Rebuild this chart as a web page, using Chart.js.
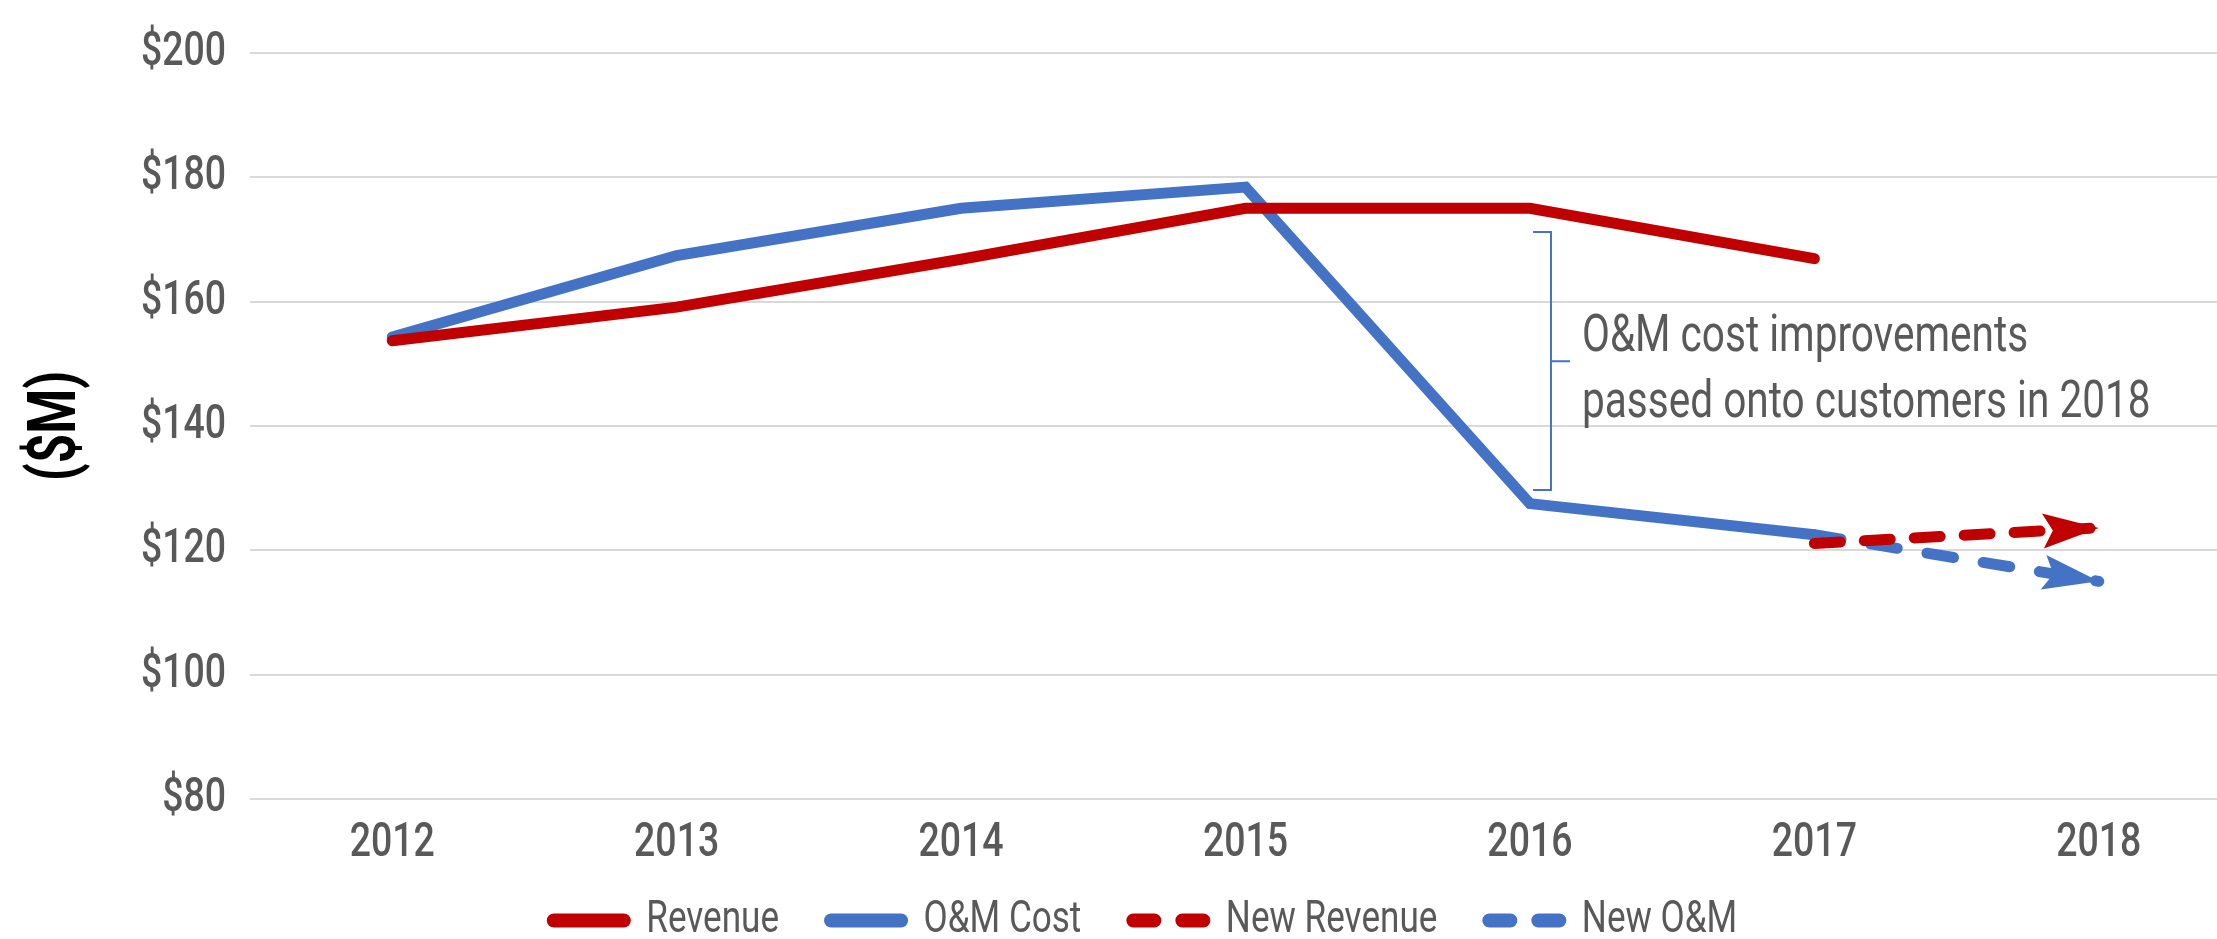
<!DOCTYPE html>
<html>
<head>
<meta charset="utf-8">
<title>Revenue vs O&amp;M Cost</title>
<script src="https://cdn.jsdelivr.net/npm/chart.js@4.4.1/dist/chart.umd.min.js"></script>
<style>
    html, body { margin: 0; padding: 0; background: #fff; overflow: hidden; }
    #wrap { width: 2241px; height: 948px; }
    canvas { display: block; }
</style>
</head>
<body>
<div id="wrap"><canvas id="om-chart" width="2241" height="948"></canvas></div>
<script>
// --- data ($M) ---
const years = ['2012', '2013', '2014', '2015', '2016', '2017', '2018'];
const revenue = [153.7, 159.1, 166.8, 175, 175, 166.9, null];
const omCost = [154.3, 167.4, 175, 178.4, 127.5, 122.5, null];
const newRevenue = [null, null, null, null, null, 121.1, 123.6];
const newOM = [null, null, null, null, null, 122.5, 115.0];

const yMin = 80;
const yMax = 200;
const yStep = 20;

// annotation, in data units (x = category index, y = $M)
const noteLines = ['O&M cost improvements', 'passed onto customers in 2018'];
const noteX = 4.183;
const noteY = [152, 141.5];
const bracketX = 4.074;
const bracketTop = 171.2;
const bracketBottom = 129.7;
const bracketMid = 150.4;

const RED = '#C00000';
const BLUE = '#4472C4';
const GREY = '#595959';
const FONT = "Roboto, 'Liberation Sans', sans-serif";
const TEXT_SX = 0.78;      // the original uses a condensed face
const LEGEND_FONT = 45;
const LEGEND_PAD = 52;

Chart.defaults.font.family = FONT;
Chart.defaults.color = GREY;

// squeeze all text horizontally so it reads like a condensed font
function condenseText(ctx) {
    const fill = ctx.fillText.bind(ctx);
    const measure = ctx.measureText.bind(ctx);
    ctx.fillText = function (text, x, y, maxWidth) {
        ctx.save();
        ctx.translate(x, y);
        ctx.scale(TEXT_SX, 1);
        if (maxWidth === undefined) fill(text, 0, 0);
        else fill(text, 0, 0, maxWidth / TEXT_SX);
        ctx.restore();
    };
    ctx.measureText = function (text) {
        const m = measure(text);
        return {
            width: m.width * TEXT_SX,
            actualBoundingBoxLeft: m.actualBoundingBoxLeft * TEXT_SX,
            actualBoundingBoxRight: m.actualBoundingBoxRight * TEXT_SX,
            actualBoundingBoxAscent: m.actualBoundingBoxAscent,
            actualBoundingBoxDescent: m.actualBoundingBoxDescent
        };
    };
}

// draws the arrow heads at the end of the dashed series
const arrowHeads = {
    id: 'arrowHeads',
    afterDatasetsDraw(chart) {
        const ctx = chart.ctx;
        chart.data.datasets.forEach((ds, i) => {
            if (!ds.arrowHead) return;
            const pts = chart.getDatasetMeta(i).data.filter(p => !p.skip);
            if (pts.length < 2) return;
            const tip = pts[pts.length - 1];
            const prev = pts[pts.length - 2];
            const angle = Math.atan2(tip.y - prev.y, tip.x - prev.x);
            ctx.save();
            ctx.translate(tip.x, tip.y);
            ctx.rotate(angle);
            ctx.beginPath();
            ctx.moveTo(0, 0);
            ctx.lineTo(-56, -17.5);
            ctx.lineTo(-46, 0);
            ctx.lineTo(-56, 17.5);
            ctx.closePath();
            ctx.fillStyle = ds.borderColor;
            ctx.fill();
            ctx.restore();
        });
    }
};

// bracket + note text
const omNote = {
    id: 'omNote',
    afterDatasetsDraw(chart) {
        const { ctx, scales: { x, y } } = chart;
        const bx = x.getPixelForValue(bracketX);
        const tickIn = x.getPixelForValue(bracketX - 0.063);
        const tickOut = x.getPixelForValue(bracketX + 0.067);
        const top = y.getPixelForValue(bracketTop);
        const bottom = y.getPixelForValue(bracketBottom);
        const mid = y.getPixelForValue(bracketMid);

        ctx.save();
        ctx.strokeStyle = BLUE;
        ctx.lineWidth = 2;
        ctx.beginPath();
        ctx.moveTo(tickIn, top);
        ctx.lineTo(bx, top);
        ctx.lineTo(bx, bottom);
        ctx.lineTo(tickIn, bottom);
        ctx.moveTo(bx, mid);
        ctx.lineTo(tickOut, mid);
        ctx.stroke();

        ctx.fillStyle = GREY;
        ctx.font = '52px ' + FONT;
        ctx.textAlign = 'left';
        ctx.textBaseline = 'alphabetic';
        noteLines.forEach((line, i) => {
            ctx.fillText(line, x.getPixelForValue(noteX), y.getPixelForValue(noteY[i]));
        });
        ctx.restore();
    }
};

// legend takes little room in the layout, then is drawn at its full height
// (and nudged right, it sits a little off centre in the original)
const legendPlace = {
    id: 'legendPlace',
    afterLayout(chart) {
        const lg = chart.legend;
        if (!lg) return;
        lg.top = lg.bottom - (LEGEND_FONT + LEGEND_PAD + 5);
        lg.height = lg.bottom - lg.top;
        lg.left += 50;
        lg.width = lg.right - lg.left;
    }
};

const ctx = document.getElementById('om-chart').getContext('2d');
condenseText(ctx);

new Chart(ctx, {
    type: 'line',
    data: {
        labels: years,
        datasets: [
            {
                label: 'Revenue',
                data: revenue,
                borderColor: RED,
                backgroundColor: RED,
                borderWidth: 11,
                borderCapStyle: 'round',
                order: 0
            },
            {
                label: 'O&M Cost',
                data: omCost,
                borderColor: BLUE,
                backgroundColor: BLUE,
                borderWidth: 11,
                borderCapStyle: 'round',
                order: 2
            },
            {
                label: 'New Revenue',
                data: newRevenue,
                borderColor: RED,
                backgroundColor: RED,
                borderWidth: 11,
                borderDash: [26, 24],
                borderCapStyle: 'round',
                arrowHead: true,
                order: 1
            },
            {
                label: 'New O&M',
                data: newOM,
                borderColor: BLUE,
                backgroundColor: BLUE,
                borderWidth: 11,
                borderDash: [27, 30],
                borderCapStyle: 'round',
                arrowHead: true,
                order: 3
            }
        ]
    },
    options: {
        responsive: false,
        animation: false,
        events: [],
        devicePixelRatio: 1,
        layout: { padding: { top: 45, left: 0, right: 0, bottom: 0 } },
        elements: {
            point: { radius: 0, hoverRadius: 0 },
            line: { tension: 0 }
        },
        plugins: {
            tooltip: { enabled: false },
            legend: {
                position: 'bottom',
                maxHeight: 74,
                labels: {
                    usePointStyle: true,
                    pointStyle: 'line',
                    pointStyleWidth: 70,
                    padding: LEGEND_PAD,
                    color: GREY,
                    font: { size: LEGEND_FONT },
                    generateLabels(chart) {
                        const items = Chart.defaults.plugins.legend.labels.generateLabels(chart);
                        items.forEach(it => {
                            const ds = chart.data.datasets[it.datasetIndex];
                            it.lineWidth = 14;
                            it.lineCap = 'round';
                            it.strokeStyle = ds.borderColor;
                            it.lineDash = ds.borderDash ? [21, 28] : [];
                        });
                        return items.sort((a, b) => a.datasetIndex - b.datasetIndex);
                    }
                }
            }
        },
        scales: {
            x: {
                offset: true,
                grid: { display: false, drawTicks: false },
                border: { display: false },
                ticks: { color: GREY, font: { size: 48, weight: '500' }, padding: 16 },
                afterFit(axis) { axis.height = 75; }
            },
            y: {
                min: yMin,
                max: yMax,
                grid: { color: '#D9D9D9', lineWidth: 2, drawTicks: false },
                border: { display: false },
                ticks: {
                    stepSize: yStep,
                    color: GREY,
                    font: { size: 48, weight: '500' },
                    padding: 24,
                    callback: v => '$' + v
                },
                title: {
                    display: true,
                    text: '($M)',
                    color: '#000',
                    font: { size: 66, weight: 'bold' },
                    padding: { top: 19, bottom: 0 }
                },
                afterFit(axis) { axis.width = 250; }
            }
        }
    },
    plugins: [arrowHeads, omNote, legendPlace]
});
</script>
</body>
</html>
